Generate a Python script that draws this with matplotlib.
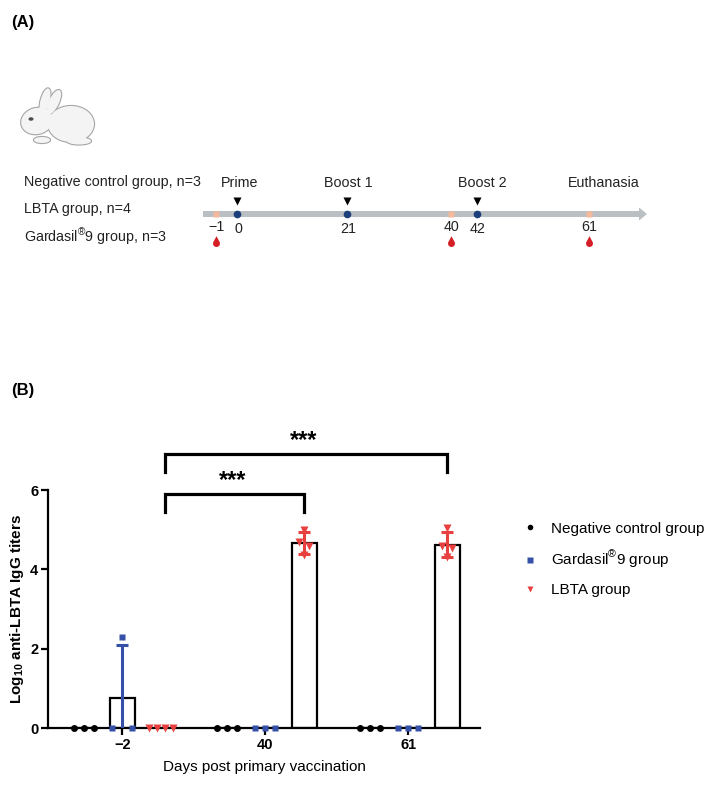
import numpy as np
import matplotlib
matplotlib.use("Agg")
import matplotlib.pyplot as plt
from matplotlib.patches import Ellipse, FancyArrow
from matplotlib.path import Path
from matplotlib.lines import Line2D

plt.rcParams['font.family'] = ['Liberation Sans', 'DejaVu Sans']
plt.rcParams['mathtext.fontset'] = 'custom'
plt.rcParams['mathtext.rm'] = 'Liberation Sans'
plt.rcParams['mathtext.bf'] = 'Liberation Sans:bold'

# --- Panel A: study schedule ---
GROUP_LABELS_A = ["Negative control group, n=3", "LBTA group, n=4",
                  "Gardasil$^{\u00ae}$9 group, n=3"]
EVENT_NAMES = ["Prime", "Boost 1", "Boost 2", "Euthanasia"]
VACCINE_DAYS = ["0", "21", "42"]
BLEED_DAYS = ["\u22121", "40", "61"]
# schematic (not to scale) positions along the arrow, in px
VACCINE_X = [237, 347, 477]
BLEED_X = [216, 451, 589]
EVENT_X = [240, 348, 482, 604]

# --- Panel B: anti-LBTA IgG titers ---
DAYS = ["\u22122", "40", "61"]
NEG = [[0, 0, 0], [0, 0, 0], [0, 0, 0]]
GARD = [[0, 2.3, 0], [0, 0, 0], [0, 0, 0]]
LBTA = [[0, 0, 0, 0], [5.0, 4.7, 4.6, 4.35], [5.05, 4.6, 4.55, 4.3]]

GROUPS = [("Negative control group", NEG, 'o', 'black'),
          ("Gardasil$^{\u00ae}$9 group", GARD, 's', '#3450a8'),
          ("LBTA group", LBTA, 'v', '#e8403e')]
OFFSETS = [-0.27, 0.0, 0.27]
BAR_W = 0.175

fig = plt.figure(figsize=(7.12, 7.9), dpi=100)

# ---------- Panel A ----------
ax_a = fig.add_axes([0, 1 - 320 / 790, 1, 320 / 790])
ax_a.set_xlim(0, 712)
ax_a.set_ylim(320, 0)
ax_a.axis('off')

ax_a.text(11, 22, "(A)", fontsize=12, fontweight='bold', va='center')

# rabbit: outlines first, fills on top so only the union outline shows
fur, line = '#f4f4f4', '#a5a5a5'
rabbit = [((71, 124), 46, 36, 0), ((37, 121), 32, 26, -15),
          ((45, 101), 9, 26, 15), ((54, 102), 10, 26, 25),
          ((42, 140), 16, 6, 0), ((79, 141), 24, 7, 0)]
for c, w, h, a in rabbit:
    ax_a.add_patch(Ellipse(c, w, h, angle=a, facecolor=fur, edgecolor=line, lw=1.6, zorder=1))
for c, w, h, a in rabbit:
    ax_a.add_patch(Ellipse(c, w, h, angle=a, facecolor=fur, edgecolor='none', zorder=2))
ax_a.add_patch(Ellipse((31, 119), 5, 3.5, facecolor='#4a4a4a', edgecolor='none', zorder=3))

# group labels
for i, lab in enumerate(GROUP_LABELS_A):
    ax_a.text(24, 182 + 27.5 * i, lab, fontsize=10.3, va='center', color='#222222')

# timeline arrow
ax_a.add_patch(FancyArrow(203, 214, 444, 0, width=6, head_width=13, head_length=8,
                          length_includes_head=True, color='#b9bfc2', lw=0))

ax_a.plot(BLEED_X, [214] * 3, 's', ms=4.5, color='#f4b89c', mec='none')
ax_a.plot(VACCINE_X, [214] * 3, 'o', ms=5.5, color='#1d3f7c', mec='none')
ax_a.plot(VACCINE_X, [201] * 3, 'v', ms=5.5, color='black', mec='none')

for xp, name in zip(EVENT_X, EVENT_NAMES):
    ax_a.text(xp, 183, name, fontsize=10.3, ha='center', va='center', color='#222222')
for xp, d in zip(VACCINE_X, VACCINE_DAYS):
    ax_a.text(xp + 1, 229, d, fontsize=10.3, ha='center', va='center', color='#222222')
for xp, d in zip(BLEED_X, BLEED_DAYS):
    ax_a.text(xp, 227, d, fontsize=10.3, ha='center', va='center', color='#222222')

# blood drop marker
ang = np.radians(np.linspace(35, -215, 40))
drop_verts = np.column_stack([np.cos(ang), np.sin(ang)])
drop_verts = np.vstack([[0, 2.1], drop_verts, [0, 2.1]])
drop = Path(drop_verts, closed=True)
ax_a.plot(BLEED_X, [243] * 3, marker=drop, ls='none', ms=10.5, color='#d41f26', mec='none')

# ---------- Panel B ----------
fig.text(11 / 712, 1 - 391 / 790, "(B)", fontsize=12, fontweight='bold', va='center')

ax = fig.add_axes([48 / 712, 62 / 790, 432 / 712, 238 / 790])
x = np.arange(len(DAYS))

for (name, data, mk, col), off in zip(GROUPS, OFFSETS):
    for i, vals in enumerate(data):
        vals = np.asarray(vals, float)
        m = vals.mean()
        sd = vals.std(ddof=1)
        xc = x[i] + off
        ax.bar(xc, m, width=BAR_W, facecolor='white', edgecolor='black', lw=1.6, zorder=2)
        if sd > 0:
            ax.errorbar(xc, m, yerr=sd, color=col, lw=2.2, capsize=4.5, capthick=2.2, zorder=4)
        n = len(vals)
        if m == 0 or i == 0:
            step = 0.07 if n == 3 else 0.056
            jit = (np.arange(n) - (n - 1) / 2) * step
        else:
            jit = np.array([0, -0.035, 0.035, 0])[:n]
        ax.plot(xc + jit, vals, mk, ms=5 if mk != 'v' else 5.5, color=col, mec='none',
                ls='none', clip_on=False, zorder=5)

# significance brackets
lb = x + OFFSETS[2]
for (a, b, top, star_y) in [(lb[0], lb[1], 5.9, 6.25), (lb[0], lb[2], 6.9, 7.24)]:
    ax.plot([a + 0.03, a + 0.03, b, b], [top - 0.45, top, top, top - 0.45], color='black',
            lw=2.3, clip_on=False, solid_joinstyle='miter')
    ax.text((a + b) / 2, star_y, "***", ha='center', va='center', fontsize=17,
            fontweight='bold', clip_on=False)

ax.set_xlim(-0.52, 2.5)
ax.set_ylim(0, 6)
ax.set_yticks([0, 2, 4, 6])
ax.set_xticks(x)
ax.set_xticklabels(DAYS)
for lab in ax.get_xticklabels() + ax.get_yticklabels():
    lab.set_fontweight('bold')
    lab.set_fontsize(10.5)
ax.tick_params(width=1.6, length=5, pad=2)
ax.spines['top'].set_visible(False)
ax.spines['right'].set_visible(False)
ax.spines['left'].set_linewidth(1.6)
ax.spines['bottom'].set_linewidth(1.6)
ax.set_ylabel("Log$_{\\mathbf{10}}$ anti-LBTA IgG titers", fontsize=11, fontweight='bold',
              labelpad=3)
ax.set_xlabel("Days post primary vaccination", fontsize=11, labelpad=6)

handles = [Line2D([], [], marker=mk, color=col, ls='none', ms=4, mec='none')
           for _, _, mk, col in GROUPS]
fig.legend(handles, [g[0] for g in GROUPS], loc='upper left',
           bbox_to_anchor=(510 / 712, 1 - 508 / 790), frameon=False, fontsize=11,
           handlelength=0.8, handletextpad=1.0, labelspacing=0.85)

fig.savefig("out.png", dpi=100)
